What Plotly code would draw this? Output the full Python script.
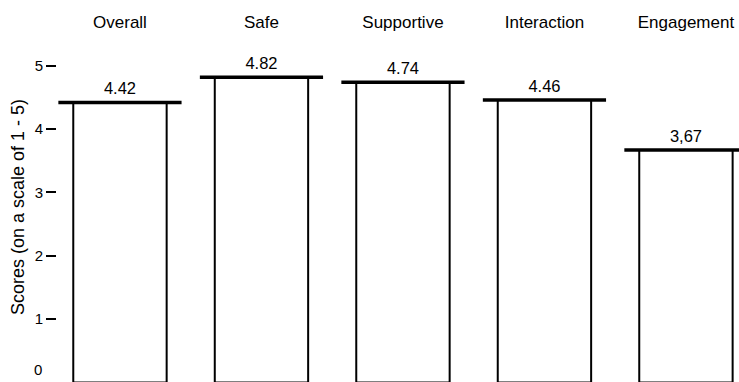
import plotly.graph_objects as go

categories = ["Overall", "Safe", "Supportive", "Interaction", "Engagement"]
scores = [4.42, 4.82, 4.74, 4.46, 3.67]
score_labels = ["4.42", "4.82", "4.74", "4.46", "3,67"]
y_ticks = [0, 1, 2, 3, 4, 5]
y_title = "Scores (on a scale of 1 - 5)"

idx = list(range(len(categories)))
FONT = "Liberation Sans, Arial, Helvetica, sans-serif"

fig = go.Figure()

# bars: white fill, black outline
fig.add_trace(go.Bar(
    x=idx, y=scores, width=0.66,
    marker=dict(color="white", line=dict(color="black", width=2)),
    hoverinfo="skip", showlegend=False,
))

# thick horizontal cap line on top of each bar
fig.add_trace(go.Scatter(
    x=idx, y=scores, mode="markers",
    marker=dict(symbol="line-ew", size=88, color="black",
                line=dict(color="black", width=3.5)),
    cliponaxis=False, hoverinfo="skip", showlegend=False,
))

# value labels
fig.add_trace(go.Scatter(
    x=idx, y=scores, mode="markers+text", text=score_labels,
    textposition="top center",
    marker=dict(size=5, color="rgba(0,0,0,0)"),
    textfont=dict(family=FONT, size=16.5, color="black"),
    cliponaxis=False, hoverinfo="skip", showlegend=False,
))

fig.update_layout(
    width=739, height=382,
    margin=dict(l=57, r=0, t=32, b=0, autoexpand=False),
    plot_bgcolor="white", paper_bgcolor="white",
    font=dict(family=FONT, color="black"),
    xaxis=dict(
        side="top", range=[-0.445, 4.375],
        tickmode="array", tickvals=idx, ticktext=categories,
        tickfont=dict(family=FONT, size=17, color="black"),
        showgrid=False, zeroline=False, showline=False, ticks="",
        automargin=False,
    ),
    yaxis=dict(
        range=[0.006, 5.535], automargin=False,
        tickmode="array", tickvals=y_ticks,
        ticktext=["" if v == 0 else str(v) for v in y_ticks],
        ticks="outside", ticklen=10, tickwidth=2, tickcolor="black",
        tickfont=dict(family=FONT, size=15, color="black"),
        showgrid=False, zeroline=False, showline=False,
        title=dict(text=y_title, font=dict(family=FONT, size=18, color="black"),
                   standoff=5),
    ),
    annotations=[dict(
        x=0, xref="paper", y=0, yref="paper",
        text=str(y_ticks[0]), showarrow=False,
        xanchor="right", yanchor="bottom", xshift=-13, yshift=2,
        font=dict(family=FONT, size=15, color="black"),
    )],
)

fig.write_html(
    "out.html",
    config={"displayModeBar": False},
    post_script="document.body.style.margin='0';document.body.style.overflow='hidden';",
)
